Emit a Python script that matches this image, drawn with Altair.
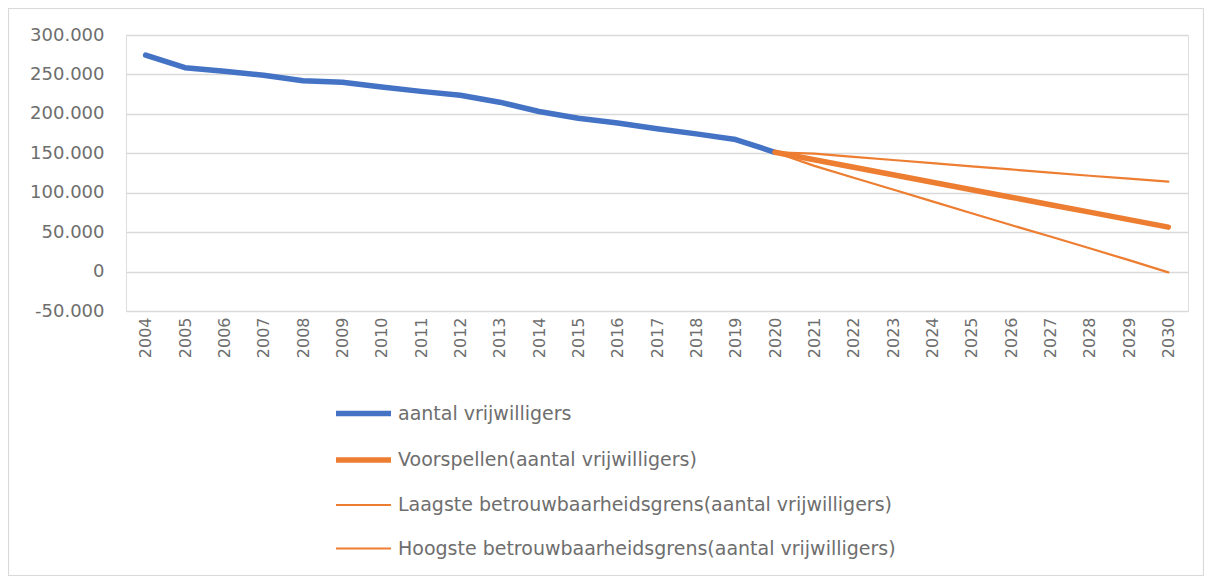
import altair as alt
import pandas as pd

# ---- data ----
years_hist = [str(y) for y in range(2004, 2021)]
aantal = [274500, 258500, 254000, 249000, 242000, 240000, 234000, 228500, 223500,
          214800, 203000, 194400, 188300, 181000, 174600, 167400, 151300]

years_fc = [str(y) for y in range(2020, 2031)]
voorspellen = [151300, 141800, 132300, 122800, 113300, 103800, 94300, 84800, 75400, 65900, 56400]
laagste = [151300, 134000, 119000, 104000, 89000, 74000, 59000, 44500, 29500, 14500, -1000]
hoogste = [151300, 149500, 145500, 141500, 137500, 133500, 129500, 125500, 121500, 117800, 114000]

all_years = [str(y) for y in range(2004, 2031)]
series_names = [
    "aantal vrijwilligers",
    "Voorspellen(aantal vrijwilligers)",
    "Laagste betrouwbaarheidsgrens(aantal vrijwilligers)",
    "Hoogste betrouwbaarheidsgrens(aantal vrijwilligers)",
]
series_colors = ["#4472C4", "#ED7D31", "#ED7D31", "#ED7D31"]
series_widths = [5.5, 5.5, 2.2, 2.2]

rows = []
for y, v in zip(years_hist, aantal):
    rows.append({"jaar": y, "waarde": v, "reeks": series_names[0]})
for y, v in zip(years_fc, voorspellen):
    rows.append({"jaar": y, "waarde": v, "reeks": series_names[1]})
for y, v in zip(years_fc, laagste):
    rows.append({"jaar": y, "waarde": v, "reeks": series_names[2]})
for y, v in zip(years_fc, hoogste):
    rows.append({"jaar": y, "waarde": v, "reeks": series_names[3]})
df = pd.DataFrame(rows)

FONT = "DejaVu Sans"
GRAY = "#6e6e6e"

legend_cfg = alt.Legend(
    orient="none", legendX=207, legendY=348, direction="vertical",
    title=None, symbolType="stroke", symbolSize=3025, labelFont=FONT,
    labelFontSize=19, labelColor=GRAY, labelOffset=4, padding=0, rowPadding=4.5,
    labelLimit=800,
)

lines = alt.Chart(df).mark_line(strokeCap="round", strokeJoin="round").encode(
    x=alt.X("jaar:O", sort=all_years, scale=alt.Scale(domain=all_years, type="point", padding=0.5),
            axis=alt.Axis(title=None, labelAngle=-90, labelAlign="right", labelBaseline="middle",
                          labelFont=FONT, labelFontSize=16, labelColor=GRAY, labelPadding=6,
                          ticks=False, domain=False, grid=False)),
    y=alt.Y("waarde:Q", scale=alt.Scale(domain=[-50000, 300000], nice=False),
            axis=alt.Axis(title=None, values=list(range(-50000, 300001, 50000)),
                          labelExpr="replace(replace(format(datum.value, ',d'), ',', '.'), '\u2212', '-')",
                          labelFont=FONT, labelFontSize=18, labelColor=GRAY, labelPadding=22,
                          ticks=False, domain=False, grid=True, gridColor="#d9d9d9", gridWidth=1.5)),
    color=alt.Color("reeks:N", sort=series_names,
                    scale=alt.Scale(domain=series_names, range=series_colors), legend=legend_cfg),
    strokeWidth=alt.StrokeWidth("reeks:O", sort=series_names,
                                scale=alt.Scale(domain=series_names, range=series_widths, type="ordinal"),
                                legend=legend_cfg),
    detail="reeks:N",
    order=alt.Order("jaar:O"),
)

border = alt.Chart(pd.DataFrame({"a": [0]})).mark_rect(fill=None, stroke="#d9d9d9", strokeWidth=1.2).encode(
    x=alt.value(-117.5), x2=alt.value(1062 + 15.5), y=alt.value(-26.5), y2=alt.value(276 + 264.5)
)

chart = alt.layer(border, lines).properties(
    width=1062, height=276,
    autosize=alt.AutoSizeParams(type="none"),
    padding={"left": 118, "top": 27, "right": 16, "bottom": 265},
).configure_view(stroke=None).configure(background="white")

chart.save("out.html", embed_options={"renderer": "svg", "actions": False})
